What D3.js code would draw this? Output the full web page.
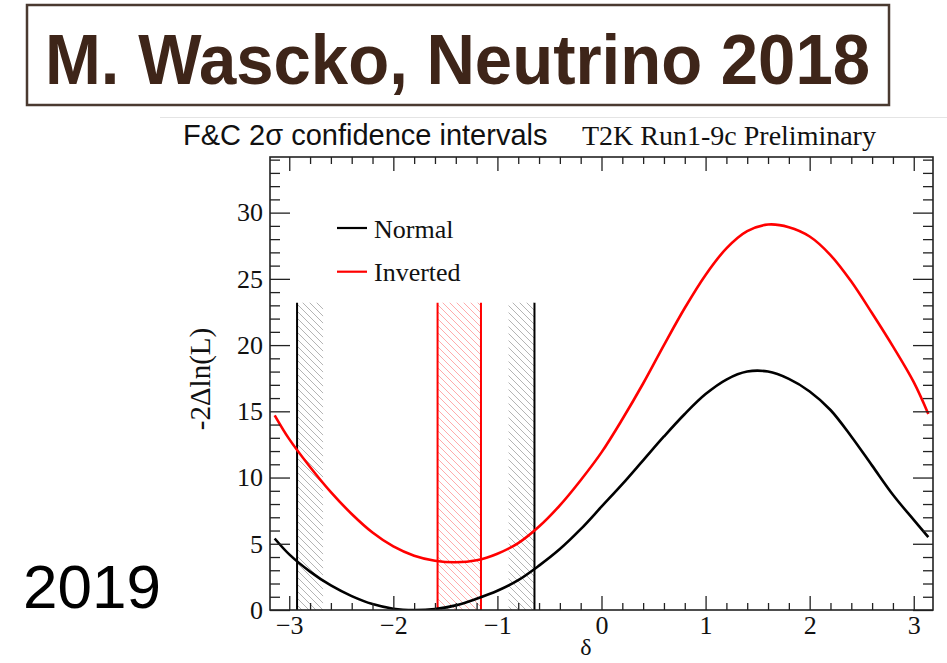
<!DOCTYPE html>
<html>
<head>
<meta charset="utf-8">
<script src="https://cdn.jsdelivr.net/npm/d3@7"></script>
<style>
  html, body { margin: 0; padding: 0; background: #fff; }
  svg { display: block; }
</style>
</head>
<body>
<svg id="chart" width="947" height="663"></svg>
<script>
// ---------------- data ----------------
const headerText = "M. Wascko, Neutrino 2018";
const sideText = "2019";
const plotTitleLeft = "F&C 2\u03c3 confidence intervals";
const plotTitleRight = "T2K Run1-9c Preliminary";
const yAxisTitle = "-2\u0394ln(L)";
const xAxisTitle = "\u03b4";

const seriesNames = ["Normal", "Inverted"];
const deltaValues = [-3.14,-3.0,-2.8,-2.6,-2.4,-2.2,-2.0,-1.8,-1.6,-1.4,-1.2,-1.0,-0.8,-0.6,-0.4,-0.2,0,0.2,0.4,0.6,0.8,1.0,1.2,1.4,1.6,1.8,2.0,2.2,2.4,2.6,2.8,3.0,3.14];
const normalValues = [5.4,4.2,2.9,1.85,1.05,0.45,0.1,0.0,0.08,0.35,0.85,1.45,2.25,3.35,4.6,6.1,7.8,9.5,11.3,13.1,14.8,16.3,17.4,18.0,18.0,17.45,16.5,15.1,13.1,10.9,8.7,6.8,5.5];
const invertedValues = [14.7,12.9,10.8,8.9,7.25,5.85,4.8,4.1,3.72,3.6,3.75,4.25,5.05,6.3,7.9,9.8,11.9,14.4,17.1,20.0,22.8,25.3,27.3,28.6,29.1,28.9,28.2,26.8,24.8,22.4,19.9,17.2,14.8];

// 2 sigma interval edges and hatched bands
const normalEdges = [-2.925, -0.644];
const invertedEdges = [-1.575, -1.158];
const normalBands = [[-2.925, -2.675], [-0.893, -0.644]];
const invertedBands = [[-1.575, -1.158]];
const intervalTop = 23.2;

const xDomain = [-3.185, 3.185];
const yDomain = [0, 34.2];
const xMajorTicks = [-3, -2, -1, 0, 1, 2, 3];
const xMinorTicks = d3.range(-3.0, 3.19, 0.2).map(v => Math.round(v * 10) / 10).filter(v => !xMajorTicks.includes(v));
const yMajorTicks = [0, 5, 10, 15, 20, 25, 30];
const yMinorTicks = d3.range(0, 35, 1).filter(v => v % 5 !== 0);

// ---------------- drawing ----------------
const svg = d3.select("#chart");
const serif = "'Liberation Serif', 'Times New Roman', serif";
const sans = "'Liberation Sans', Arial, Helvetica, sans-serif";

// header box
svg.append("rect").attr("x", 27).attr("y", 5).attr("width", 862).attr("height", 100)
  .attr("fill", "#fff").attr("stroke", "#4a3a30").attr("stroke-width", 2.5);
svg.append("text").attr("x", 45).attr("y", 84)
  .attr("font-family", sans).attr("font-weight", "bold").attr("font-size", 70)
  .attr("fill", "#3e2519")
  .attr("textLength", 825).attr("lengthAdjust", "spacingAndGlyphs")
  .text(headerText);

// faint top edge of embedded plot image
svg.append("line").attr("x1", 160).attr("x2", 947).attr("y1", 117.5).attr("y2", 117.5)
  .attr("stroke", "#e4e4e4").attr("stroke-width", 1);

// side text of the slide
svg.append("text").attr("x", 161).attr("y", 608).attr("text-anchor", "end")
  .attr("font-family", sans).attr("font-size", 62).attr("fill", "#000")
  .text(sideText);

const L = 270, R = 933, T = 157, B = 610;
const x = d3.scaleLinear().domain(xDomain).range([L, R]);
const y = d3.scaleLinear().domain(yDomain).range([B, T]);

// patterns
const defs = svg.append("defs");
function hatch(id, color) {
  const p = defs.append("pattern").attr("id", id).attr("patternUnits", "userSpaceOnUse")
    .attr("width", 7).attr("height", 7);
  p.append("path").attr("d", "M-1,-1 L8,8 M-1,6 L1,8 M6,-1 L8,1")
    .attr("stroke", color).attr("stroke-width", 1).attr("fill", "none");
}
hatch("hatchGray", "#b4b4b4");
hatch("hatchRed", "#ffabab");

const clip = defs.append("clipPath").attr("id", "plotclip");
clip.append("rect").attr("x", L).attr("y", T).attr("width", R - L).attr("height", B - T);

const plot = svg.append("g").attr("clip-path", "url(#plotclip)");

// hatched bands
plot.selectAll("rect.nb").data(normalBands).enter().append("rect")
  .attr("x", d => x(d[0])).attr("width", d => x(d[1]) - x(d[0]))
  .attr("y", y(intervalTop)).attr("height", y(0) - y(intervalTop))
  .attr("fill", "url(#hatchGray)");
plot.selectAll("rect.ib").data(invertedBands).enter().append("rect")
  .attr("x", d => x(d[0])).attr("width", d => x(d[1]) - x(d[0]))
  .attr("y", y(intervalTop)).attr("height", y(0) - y(intervalTop))
  .attr("fill", "url(#hatchRed)");

// interval edges
plot.selectAll("line.ne").data(normalEdges).enter().append("line")
  .attr("x1", d => x(d)).attr("x2", d => x(d)).attr("y1", y(0)).attr("y2", y(intervalTop))
  .attr("stroke", "#000").attr("stroke-width", 2);
plot.selectAll("line.ie").data(invertedEdges).enter().append("line")
  .attr("x1", d => x(d)).attr("x2", d => x(d)).attr("y1", y(0)).attr("y2", y(intervalTop))
  .attr("stroke", "#ff0000").attr("stroke-width", 2);

// curves
const line = d3.line().x(d => x(d[0])).y(d => y(d[1])).curve(d3.curveCatmullRom.alpha(0.5));
plot.append("path").datum(deltaValues.map((d, i) => [d, invertedValues[i]]))
  .attr("d", line).attr("fill", "none").attr("stroke", "#ff0000").attr("stroke-width", 2.6);
plot.append("path").datum(deltaValues.map((d, i) => [d, normalValues[i]]))
  .attr("d", line).attr("fill", "none").attr("stroke", "#000").attr("stroke-width", 2.6);

// axes
function styleAxis(g) {
  g.select(".domain").remove();
  g.selectAll(".tick line").attr("stroke", "#222").attr("stroke-width", 1.3);
  g.selectAll("text").attr("font-family", serif).attr("font-size", 26).attr("fill", "#111");
}
const fmt = d => (d < 0 ? "\u2212" + Math.abs(d) : String(d));

svg.append("g").attr("transform", `translate(0,${B})`)
  .call(d3.axisBottom(x).tickValues(xMajorTicks).tickSizeInner(-14).tickSizeOuter(0).tickPadding(6).tickFormat(fmt))
  .call(styleAxis);
svg.append("g").attr("transform", `translate(0,${B})`)
  .call(d3.axisBottom(x).tickValues(xMinorTicks).tickSizeInner(-7).tickSizeOuter(0).tickFormat(""))
  .call(styleAxis);
svg.append("g").attr("transform", `translate(0,${T})`)
  .call(d3.axisTop(x).tickValues(xMajorTicks).tickSizeInner(-14).tickSizeOuter(0).tickFormat(""))
  .call(styleAxis);
svg.append("g").attr("transform", `translate(0,${T})`)
  .call(d3.axisTop(x).tickValues(xMinorTicks).tickSizeInner(-7).tickSizeOuter(0).tickFormat(""))
  .call(styleAxis);

svg.append("g").attr("transform", `translate(${L},0)`)
  .call(d3.axisLeft(y).tickValues(yMajorTicks).tickSizeInner(-20).tickSizeOuter(0).tickPadding(7).tickFormat(d3.format("d")))
  .call(styleAxis);
svg.append("g").attr("transform", `translate(${L},0)`)
  .call(d3.axisLeft(y).tickValues(yMinorTicks).tickSizeInner(-10).tickSizeOuter(0).tickFormat(""))
  .call(styleAxis);
svg.append("g").attr("transform", `translate(${R},0)`)
  .call(d3.axisRight(y).tickValues(yMajorTicks).tickSizeInner(-20).tickSizeOuter(0).tickFormat(""))
  .call(styleAxis);
svg.append("g").attr("transform", `translate(${R},0)`)
  .call(d3.axisRight(y).tickValues(yMinorTicks).tickSizeInner(-10).tickSizeOuter(0).tickFormat(""))
  .call(styleAxis);

// frame
svg.append("rect").attr("x", L).attr("y", T).attr("width", R - L).attr("height", B - T)
  .attr("fill", "none").attr("stroke", "#222").attr("stroke-width", 1.6);

// plot titles
svg.append("text").attr("x", 183).attr("y", 145)
  .attr("font-family", sans).attr("font-size", 29).attr("fill", "#111")
  .text(plotTitleLeft);
svg.append("text").attr("x", 582).attr("y", 145)
  .attr("font-family", serif).attr("font-size", 28).attr("fill", "#111")
  .text(plotTitleRight);

// axis titles
svg.append("text").attr("transform", "translate(210,379) rotate(-90)")
  .attr("text-anchor", "middle")
  .attr("font-family", serif).attr("font-size", 29).attr("fill", "#111")
  .text(yAxisTitle);
svg.append("text").attr("x", 586).attr("y", 655).attr("text-anchor", "middle")
  .attr("font-family", serif).attr("font-size", 24).attr("fill", "#111")
  .text(xAxisTitle);

// legend
const legendColors = ["#000", "#ff0000"];
const leg = svg.append("g");
seriesNames.forEach((name, i) => {
  const ly = 228 + i * 43.7;
  leg.append("line").attr("x1", 337).attr("x2", 367).attr("y1", ly).attr("y2", ly)
    .attr("stroke", legendColors[i]).attr("stroke-width", 2.2);
  leg.append("text").attr("x", 374).attr("y", ly + 9.5)
    .attr("font-family", serif).attr("font-size", 26).attr("fill", "#111")
    .text(name);
});
</script>
</body>
</html>
